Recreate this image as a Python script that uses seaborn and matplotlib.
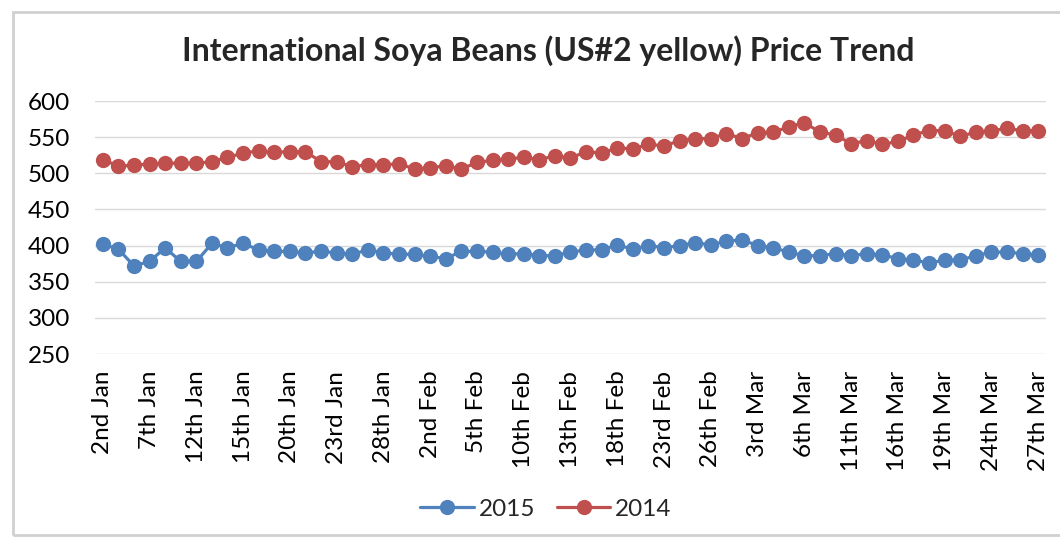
import matplotlib
matplotlib.use("Agg")
import matplotlib.pyplot as plt
import seaborn as sns
import pandas as pd
from matplotlib.patches import Rectangle

# daily prices (USD/t), 61 trading days from 2nd Jan to 27th Mar
price_2015 = [402, 395, 372, 378, 397, 378, 378, 403, 397, 403,
              394, 392, 392, 390, 392, 390, 388, 394, 390, 388,
              388, 385, 382, 392, 392, 391, 388, 389, 386, 386,
              391, 394, 394, 401, 395, 400, 397, 400, 404, 401,
              406, 408, 400, 397, 391, 386, 386, 389, 386, 389,
              387, 382, 380, 376, 380, 380, 386, 391, 391, 389,
              387]
price_2014 = [519, 510, 511, 513, 514, 514, 514, 516, 522, 528,
              531, 529, 530, 530, 516, 516, 509, 512, 512, 513,
              506, 508, 510, 506, 515, 518, 520, 522, 519, 524,
              521, 530, 528, 535, 534, 540, 538, 545, 548, 548,
              555, 548, 556, 557, 564, 570, 557, 553, 541, 545,
              540, 544, 553, 559, 559, 551, 557, 559, 562, 559,
              559]

# every third trading day is labelled on the axis
tick_labels = ['2nd Jan', '7th Jan', '12th Jan', '15th Jan', '20th Jan', '23rd Jan',
               '28th Jan', '2nd Feb', '5th Feb', '10th Feb', '13th Feb', '18th Feb',
               '23rd Feb', '26th Feb', '3rd Mar', '6th Mar', '11th Mar', '16th Mar',
               '19th Mar', '24th Mar', '27th Mar']
series_names = ['2015', '2014']
colors = {'2015': '#4F81BD', '2014': '#C0504D'}

day = list(range(len(price_2015)))
df = pd.concat([
    pd.DataFrame({'day': day, 'price': price_2015, 'year': '2015'}),
    pd.DataFrame({'day': day, 'price': price_2014, 'year': '2014'}),
])

sns.set_style("white")
plt.rcParams['font.family'] = ['Lato', 'DejaVu Sans']

fig = plt.figure(figsize=(10.6, 5.39), dpi=100)
ax = fig.add_axes([0.0896, 0.3432, 0.8972, 0.4694])

sns.lineplot(data=df, x='day', y='price', hue='year', hue_order=series_names,
             palette=colors, marker='o', markersize=11, markeredgewidth=0,
             linewidth=2.3, ax=ax)

ax.set_xlim(-0.5, len(day) - 0.5)
ax.set_ylim(250, 600)
ax.set_yticks(range(250, 601, 50))
ax.set_xticks(day[::3])
ax.set_xticklabels(tick_labels, rotation=90)
ax.tick_params(axis='both', length=0, labelsize=17.5, colors='black')
ax.tick_params(axis='y', pad=18)
ax.tick_params(axis='x', pad=12)
ax.yaxis.grid(True, color='#D9D9D9', linewidth=1)
ax.set_axisbelow(True)
for s in ax.spines.values():
    s.set_visible(False)
ax.set_xlabel('')
ax.set_ylabel('')

fig.text(0.517, 1 - 51 / 539, 'International Soya Beans (US#2 yellow) Price Trend',
         ha='center', va='center', fontsize=23, fontweight='bold')

handles, labels = ax.get_legend_handles_labels()
ax.legend(handles, labels, loc='center', bbox_to_anchor=(0.515, 1 - 509 / 539),
          bbox_transform=fig.transFigure, ncol=2, frameon=False, fontsize=17.5,
          handlelength=2.2, columnspacing=0.9, handletextpad=0.2)

# chart frame
fig.patches.append(Rectangle((13 / 1060, 4 / 539), 1.2, 1 - 16 / 539,
                             transform=fig.transFigure, fill=False,
                             edgecolor='#D0D0D0', linewidth=2))

fig.savefig('out.png', dpi=100)
